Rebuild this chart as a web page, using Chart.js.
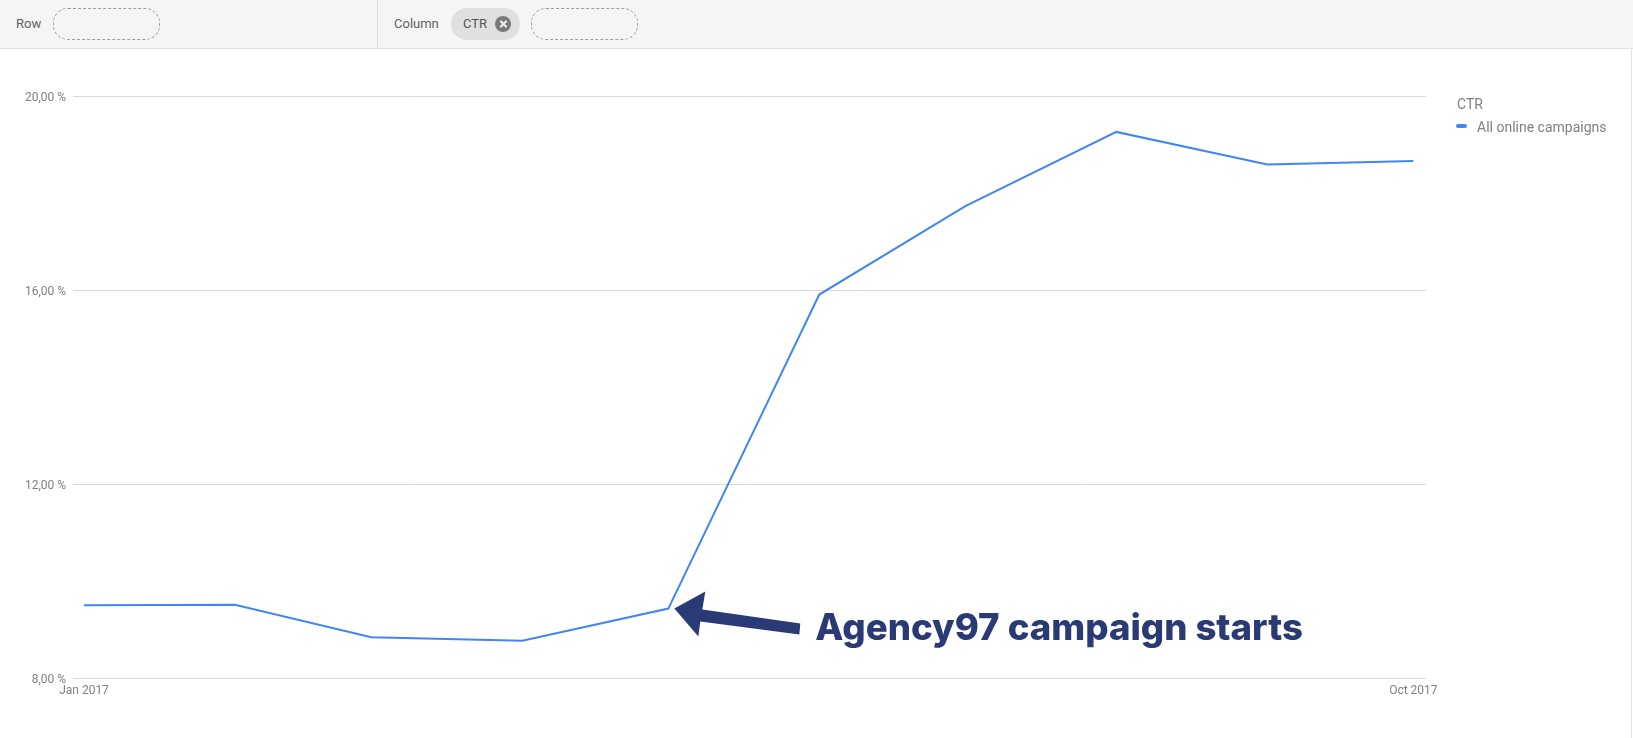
<!DOCTYPE html>
<html><head><meta charset="utf-8">
<script src="https://cdn.jsdelivr.net/npm/chart.js@4/dist/chart.umd.min.js"></script>
<style>
html,body{margin:0;padding:0;background:#fff;width:1633px;height:738px;overflow:hidden;font-family:Roboto,sans-serif}
#wrap{position:absolute;left:0;top:0;width:1633px;height:738px}
canvas{position:absolute;left:0;top:0}
#bar{position:absolute;left:0;top:0;width:1633px;height:48px;background:#f5f5f5;border-bottom:1px solid #e0e0e0}
#div{position:absolute;left:377px;top:0;width:1px;height:48px;background:#e0e0e0}
.lbl{position:absolute;top:16px;font-size:13px;line-height:15px;color:#616161}
.slot{position:absolute;top:8px;width:105px;height:30px;border:1px dashed #9e9e9e;border-radius:15px}
#chip{position:absolute;left:451px;top:8px;width:69px;height:32px;background:#e0e0e0;border-radius:16px}
#chip span{position:absolute;left:12px;top:8px;font-size:13px;line-height:16px;color:#555}
#x{position:absolute;left:44px;top:8px;width:16px;height:16px;border-radius:50%;background:#7a7a7a}
#x:before,#x:after{content:"";position:absolute;left:3.5px;top:7px;width:9px;height:2px;background:#eee}
#x:before{transform:rotate(45deg)}#x:after{transform:rotate(-45deg)}
#edge{position:absolute;left:1631px;top:48px;width:1px;height:690px;background:#e0e0e0}
#lt{position:absolute;left:1457px;top:96px;font-size:14px;line-height:16px;color:#808080}
#ls{position:absolute;left:1456px;top:124px;width:11px;height:4px;border-radius:2px;background:#4285f4}
#li{position:absolute;left:1477px;top:119px;font-size:14px;line-height:16px;color:#808080}
</style></head><body>
<div id="wrap">
<canvas id="c" width="1633" height="738"></canvas>
<div id="bar"><div id="div"></div>
<div class="lbl" style="left:16px">Row</div><div class="slot" style="left:53px"></div>
<div class="lbl" style="left:394px">Column</div>
<div id="chip"><span>CTR</span><div id="x"></div></div>
<div class="slot" style="left:531px"></div></div>
<div id="edge"></div>
<div id="lt">CTR</div><div id="ls"></div><div id="li">All online campaigns</div>
</div>
<script>
const months = ["2017-01-01","2017-02-01","2017-03-01","2017-04-01","2017-05-01","2017-06-01","2017-07-01","2017-08-01","2017-09-01","2017-10-01"];
const ctr = [9.51,9.52,8.85,8.78,9.44,15.91,17.73,19.26,18.59,18.66];
const yTicks = [8,12,16,20];
const xTickLabels = {"2017-01-01":"Jan 2017","2017-10-01":"Oct 2017"};
const seriesName = "All online campaigns";
const noteText = "Agency97 campaign starts";
const noteIndex = 4;

const DAY = 86400000;
const dayOf = s => (Date.parse(s) - Date.parse(months[0])) / DAY;
const points = months.map((m,i) => ({x: dayOf(m), y: ctr[i]}));
const labelByDay = {};
Object.keys(xTickLabels).forEach(k => labelByDay[dayOf(k)] = xTickLabels[k]);

const note = {
  id:"note",
  afterDatasetsDraw(chart){
    const {ctx,scales:{x,y}} = chart;
    const px = x.getPixelForValue(points[noteIndex].x), py = y.getPixelForValue(points[noteIndex].y);
    ctx.save();
    ctx.fillStyle = "#2a3a75";
    ctx.beginPath();
    const ax = px+6, ay = py;
    ctx.moveTo(ax,ay);
    ctx.lineTo(ax+31,ay-17);
    ctx.lineTo(ax+28,ay+1);
    ctx.lineTo(ax+126,ay+15);
    ctx.lineTo(ax+125,ay+26);
    ctx.lineTo(ax+26,ay+13);
    ctx.lineTo(ax+24,ay+28);
    ctx.closePath();
    ctx.fill();
    ctx.font = "800 36.6px Inter, sans-serif";
    ctx.textBaseline = "alphabetic";
    ctx.fillText(noteText, ax+141, ay+31);
    ctx.restore();
  }
};

new Chart(document.getElementById("c"),{
  type:"line",
  data:{datasets:[{label:seriesName,data:points,borderColor:"#4285f4",borderWidth:2,pointRadius:0,tension:0,fill:false}]},
  plugins:[note],
  options:{
    responsive:false,animation:false,devicePixelRatio:1,
    layout:{padding:{left:0,top:96,right:207,bottom:29.5}},
    plugins:{legend:{display:false},tooltip:{enabled:false}},
    scales:{
      x:{type:"linear",min:-2.26,max:275.6,
        afterFit:s=>{s.height=30},
        afterBuildTicks:s=>{s.ticks=Object.keys(labelByDay).map(v=>({value:+v}))},
        grid:{display:false},border:{display:false},
        ticks:{autoSkip:false,maxRotation:0,padding:-3,color:"#808080",font:{family:"Roboto",size:12},callback:v=>labelByDay[v]||""}},
      y:{min:8,max:20,
        afterFit:s=>{s.width=73},
        afterBuildTicks:s=>{s.ticks=yTicks.map(v=>({value:v}))},
        grid:{color:"#d9d9d9",lineWidth:1,drawTicks:false},border:{display:false},
        ticks:{padding:7,labelOffset:1.5,color:"#808080",font:{family:"Roboto",size:12},callback:v=>v.toFixed(2).replace(".",",")+" %"}}
    }
  }
});
</script>
</body></html>
